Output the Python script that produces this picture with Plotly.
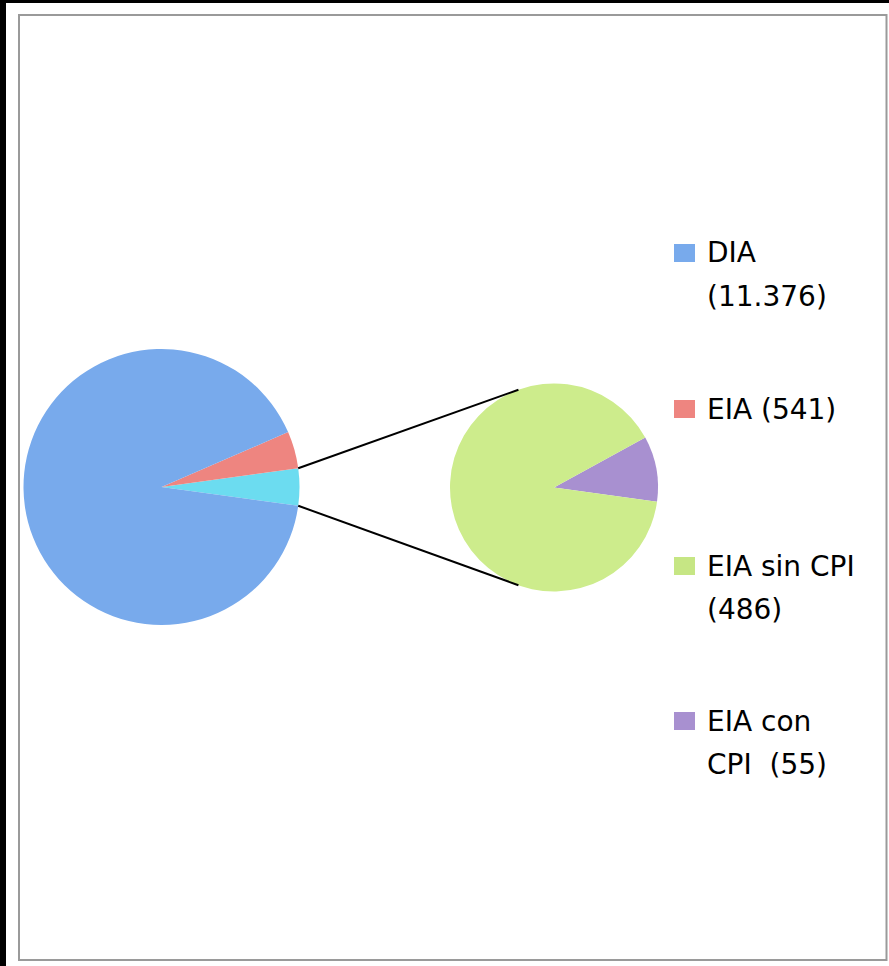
import math
import plotly.graph_objects as go

# ---------------- data ----------------
main_labels = ["EIA (desglose)", "EIA", "DIA"]
dia_value = 11376
eia_value = 541
sec_labels = ["EIA con CPI", "EIA sin CPI"]
sec_values = [55, 486]
main_values = [sum(sec_values), eia_value, dia_value]

legend_lines = [
    ["DIA", "(11.376)"],
    ["EIA (541)"],
    ["EIA sin CPI", "(486)"],
    ["EIA con", "CPI  (55)"],
]

# ---------------- style ----------------
W, H = 889, 966
main_colors = ["#6cdcf0", "#ee8580", "#78aaec"]
sec_colors = ["#a890d0", "#cdec8c"]
legend_colors = ["#78aaec", "#ee8580", "#c6e684", "#a890d0"]

cx1, cy1, r1 = 161.5, 487.0, 138.0
cx2, cy2, r2 = 554.0, 487.5, 104.0
sec_start_deg = -7.9      # math angle where first secondary slice begins
connector_deg = 110.0


def px(x):
    return x / W


def py(y):
    return 1 - y / H


total_main = sum(main_values)
half_deg = 180.0 * main_values[0] / total_main
sec_first_deg = 360.0 * sec_values[0] / sum(sec_values)

fig = go.Figure()

# plotly (counterclockwise): first slice's counterclockwise edge lies at `rotation`
fig.add_trace(go.Pie(
    labels=main_labels, values=main_values, sort=False,
    direction="counterclockwise", rotation=90 - half_deg,
    marker=dict(colors=main_colors, line=dict(width=0)),
    textinfo="none", showlegend=False,
    domain=dict(x=[px(cx1 - r1), px(cx1 + r1)], y=[py(cy1 + r1), py(cy1 - r1)]),
))

fig.add_trace(go.Pie(
    labels=sec_labels, values=sec_values, sort=False,
    direction="counterclockwise", rotation=90 - (sec_start_deg + sec_first_deg),
    marker=dict(colors=sec_colors, line=dict(width=0)),
    textinfo="none", showlegend=False,
    domain=dict(x=[px(cx2 - r2), px(cx2 + r2)], y=[py(cy2 + r2), py(cy2 - r2)]),
))

shapes = []
# outer black bands
shapes.append(dict(type="rect", xref="paper", yref="paper", x0=0, x1=px(6), y0=0, y1=1,
                   fillcolor="black", line=dict(width=0), layer="above"))
shapes.append(dict(type="rect", xref="paper", yref="paper", x0=0, x1=1, y0=py(3), y1=1,
                   fillcolor="black", line=dict(width=0), layer="above"))
# chart area border
shapes.append(dict(type="rect", xref="paper", yref="paper", x0=px(19), x1=px(886.5),
                   y0=py(960), y1=py(15), line=dict(color="#9a9a9a", width=2)))

# connector lines (computed from slice geometry)
for s in (1, -1):
    a1 = math.radians(s * half_deg)
    a2 = math.radians(s * connector_deg)
    x0 = cx1 + r1 * math.cos(a1)
    y0 = cy1 - r1 * math.sin(a1)
    x1 = cx2 + r2 * math.cos(a2)
    y1 = cy2 - r2 * math.sin(a2)
    shapes.append(dict(type="line", xref="paper", yref="paper",
                       x0=px(x0), y0=py(y0), x1=px(x1), y1=py(y1),
                       line=dict(color="black", width=2)))

# legend
annotations = []
leg_tops = [244, 400, 557, 712]
for lines, col, top in zip(legend_lines, legend_colors, leg_tops):
    shapes.append(dict(type="rect", xref="paper", yref="paper",
                       x0=px(674), x1=px(695), y0=py(top + 18), y1=py(top),
                       fillcolor=col, line=dict(width=0)))
    for i, t in enumerate(lines):
        annotations.append(dict(xref="paper", yref="paper", x=px(705), y=py(top + 9 + 43 * i),
                                xanchor="left", yanchor="middle", text=t, showarrow=False,
                                font=dict(family="DejaVu Sans", size=28, color="black")))

fig.update_layout(
    width=W, height=H,
    margin=dict(l=0, r=0, t=0, b=0),
    paper_bgcolor="white", plot_bgcolor="white",
    shapes=shapes, annotations=annotations,
    showlegend=False,
)

fig.write_html("out.html", config={"displayModeBar": False},
               post_script="document.body.style.margin='0';")
